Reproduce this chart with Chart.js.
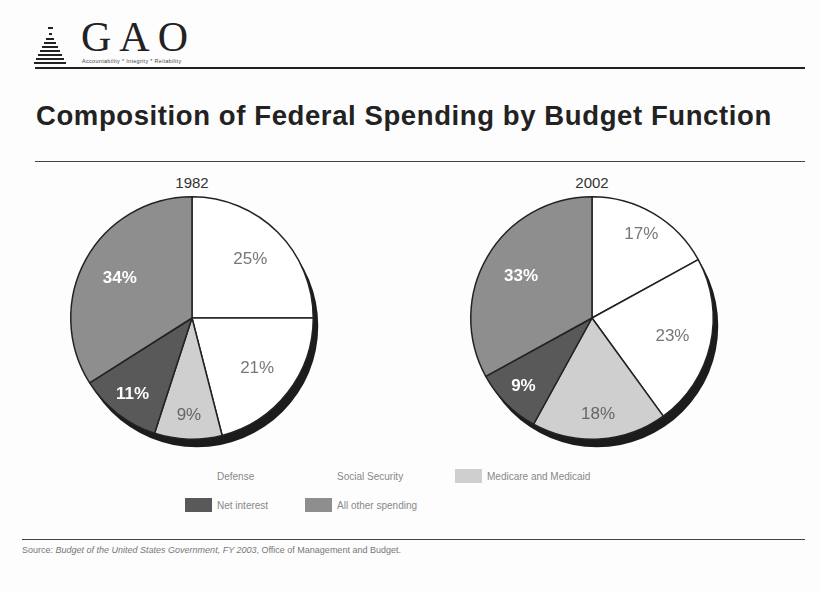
<!DOCTYPE html>
<html lang="en">
<head>
    <meta charset="UTF-8" />
    <title>Composition of Federal Spending by Budget Function</title>
    <script src="https://cdn.jsdelivr.net/npm/chart.js"></script>
    <style>
        body { margin: 0; background: #fff; font-family: "Liberation Sans", Arial, sans-serif; }
        #page { position: relative; width: 820px; height: 591px; overflow: hidden; background: #fdfdfd; }
        .abs { position: absolute; }
        .rule { position: absolute; left: 35px; width: 770px; background: #222; }
        .year { position: absolute; width: 80px; text-align: center; font-size: 15px; color: #333; }
        .pie { position: absolute; width: 260px; height: 260px; }
        .leg { position: absolute; font-size: 10px; color: #888; display: flex; align-items: center; }
        .leg span.sw { display: inline-block; width: 27px; height: 14px; margin-right: 5px; }
        .logo-bar { position: absolute; height: 2px; background: #222; }
    </style>
</head>
<body>
<div id="page">
    <!-- logo -->
    <div id="logoIcon"></div>
    <div class="abs" style="left:81px;top:13px;font-family:'Liberation Serif',serif;font-size:42px;letter-spacing:8px;color:#222;">GAO</div>
    <div class="abs" style="left:82px;top:58px;font-size:5.5px;color:#444;letter-spacing:.3px;">Accountability * Integrity * Reliability</div>
    <div class="rule" style="top:67px;height:2px;"></div>

    <div class="abs" style="left:36px;top:100px;font-size:27.5px;font-weight:bold;letter-spacing:0.6px;color:#222;">Composition of Federal Spending by Budget Function</div>
    <div class="rule" style="top:161px;height:1px;background:#444;"></div>

    <div class="year" style="left:152px;top:174px;">1982</div>
    <div class="year" style="left:552px;top:174px;">2002</div>
    <div class="pie" style="left:62px;top:188px;"><canvas id="pie1982"></canvas></div>
    <div class="pie" style="left:462px;top:188px;"><canvas id="pie2002"></canvas></div>

    <div id="legend"></div>

    <div class="rule" style="left:22px;width:783px;top:539px;height:1px;background:#444;"></div>
    <div class="abs" style="left:22px;top:545px;font-size:9px;color:#777;">Source: <i>Budget of the United States Government, FY 2003</i>, Office of Management and Budget.</div>
</div>

<script>
    // data
    const categories = ['Defense', 'Social Security', 'Medicare and Medicaid', 'Net interest', 'All other spending'];
    const share1982 = [25, 21, 9, 11, 34];
    const share2002 = [17, 23, 18, 9, 33];
    const sliceColors = ['#ffffff', '#ffffff', '#cfcfcf', '#595959', '#8e8e8e'];
    const labelColors = ['#777', '#777', '#666', '#fff', '#fff'];
    const labelBold = [false, false, false, true, true];

    // little capitol icon made of stripes
    const icon = document.getElementById('logoIcon');
    const stripes = [[5, 27], [3, 33], [8, 38], [12, 42], [16, 46], [20, 50], [24, 54], [28, 58], [32, 62]];
    stripes.forEach(([w, t]) => {
        const d = document.createElement('div');
        d.className = 'logo-bar';
        d.style.left = (50 - w / 2) + 'px';
        d.style.top = t + 'px';
        d.style.width = w + 'px';
        icon.appendChild(d);
    });

    // legend (3 columns, 2 rows)
    const legCols = [185, 305, 455];
    const legRows = [469, 498];
    const legend = document.getElementById('legend');
    categories.forEach((c, i) => {
        const el = document.createElement('div');
        el.className = 'leg';
        el.style.left = legCols[i % 3] + 'px';
        el.style.top = legRows[Math.floor(i / 3)] + 'px';
        const sw = document.createElement('span');
        sw.className = 'sw';
        sw.style.background = sliceColors[i] === '#ffffff' ? 'transparent' : sliceColors[i];
        el.appendChild(sw);
        el.appendChild(document.createTextNode(c));
        legend.appendChild(el);
    });

    // dark offset disc under the pie (3D look)
    const shadowPlugin = {
        id: 'pieShadow',
        beforeDatasetsDraw(chart) {
            const arc = chart.getDatasetMeta(0).data[0];
            if (!arc) return;
            const ctx = chart.ctx;
            ctx.save();
            ctx.beginPath();
            ctx.arc(arc.x + 5, arc.y + 8, arc.outerRadius, 0, Math.PI * 2);
            ctx.fillStyle = '#1c1c1c';
            ctx.fill();
            ctx.restore();
        }
    };

    // percent labels inside slices
    const labelPlugin = {
        id: 'pctLabels',
        afterDatasetsDraw(chart) {
            const ctx = chart.ctx;
            const vals = chart.data.datasets[0].data;
            chart.getDatasetMeta(0).data.forEach((arc, i) => {
                const mid = (arc.startAngle + arc.endAngle) / 2;
                const r = arc.outerRadius * (vals[i] < 20 ? 0.8 : 0.68);
                ctx.save();
                ctx.font = (labelBold[i] ? 'bold ' : '') + '17px "Liberation Sans", Arial, sans-serif';
                ctx.fillStyle = labelColors[i];
                ctx.textAlign = 'center';
                ctx.textBaseline = 'middle';
                ctx.fillText(vals[i] + '%', arc.x + Math.cos(mid) * r, arc.y + Math.sin(mid) * r);
                ctx.restore();
            });
        }
    };

    function makePie(id, values) {
        return new Chart(document.getElementById(id), {
            type: 'pie',
            data: {
                labels: categories,
                datasets: [{
                    data: values,
                    backgroundColor: sliceColors,
                    borderColor: '#222',
                    borderWidth: 1.5
                }]
            },
            options: {
                responsive: true,
                maintainAspectRatio: false,
                animation: false,
                layout: { padding: 8 },
                plugins: { legend: { display: false }, tooltip: { enabled: false } }
            },
            plugins: [shadowPlugin, labelPlugin]
        });
    }

    makePie('pie1982', share1982);
    makePie('pie2002', share2002);
</script>
</body>
</html>
